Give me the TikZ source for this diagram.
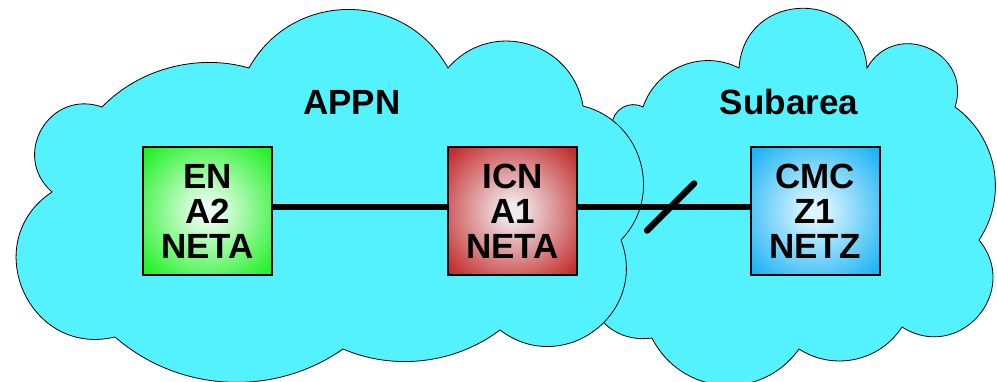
\documentclass[tikz,border=0pt]{standalone}
\usepackage{fontspec}
\setmainfont{Liberation Sans}
\definecolor{cloudc}{RGB}{84,242,255}
\definecolor{gin}{RGB}{236,255,240}
\definecolor{gout}{RGB}{36,240,40}
\definecolor{rin}{RGB}{240,234,236}
\definecolor{rout}{RGB}{196,46,46}
\definecolor{bin}{RGB}{222,246,255}
\definecolor{bout}{RGB}{30,180,245}
\pgfdeclareradialshading{gshade}{\pgfpointorigin}{color(0bp)=(gin); color(3bp)=(gin); color(33bp)=(gout); color(50bp)=(gout)}
\pgfdeclareradialshading{rshade}{\pgfpointorigin}{color(0bp)=(rin); color(3bp)=(rin); color(33bp)=(rout); color(50bp)=(rout)}
\pgfdeclareradialshading{bshade}{\pgfpointorigin}{color(0bp)=(bin); color(3bp)=(bin); color(33bp)=(bout); color(50bp)=(bout)}
\begin{document}
\begin{tikzpicture}[x=1pt,y=1pt,
  cloud/.style={fill=cloudc, draw=black, line width=0.8pt},
  lb/.style 2 args={bend left=#1, looseness=#2},
  netnode/.style={draw=black, line width=2pt, minimum width=129pt, minimum height=128pt,
    inner sep=0pt, align=center, font=\fontsize{35}{35}\selectfont\bfseries},
  cloudlabel/.style={font=\fontsize{35}{35}\selectfont\bfseries, anchor=base, inner sep=0pt},
  link/.style={line width=6.5pt, draw=black}
]
\useasboundingbox (0,0) rectangle (997,381);
% Subarea cloud (behind)
\path[cloud] (612,256) to[lb={58}{1.1}] (643,274) to[lb={49}{1.03}] (739,313)
  to[lb={86}{1.6}] (867,313) to[lb={84}{1.53}] (955,274) to[lb={44}{0.99}] (979,141)
  to[lb={81}{1.48}] (902,54) to[lb={45}{1.0}] (799,32) to[lb={59}{1.13}] (652,43)
  to[lb={40}{1.0}] (590,81) -- (575,161) -- cycle;
% APPN cloud (front)
\path[cloud] (52,189) to[lb={79}{1.44}] (102,274) to[lb={31}{0.9}] (249,313)
  to[lb={61}{1.15}] (448,313) to[lb={65}{1.2}] (583,275) to[lb={60}{1.13}] (621,141)
  to[lb={74}{1.34}] (500,51) to[lb={30}{0.91}] (343,32) to[lb={38}{0.95}] (115,44)
  to[lb={80}{1.44}] cycle;
% labels
\node[cloudlabel] (appn) at (352,266) {APPN};
\node[cloudlabel] (subarea) at (789,266) {Subarea};
% nodes
\node[netnode, shade, shading=gshade] (en) at (207.5,170) {EN\\A2\\NETA};
\node[netnode, shade, shading=rshade] (icn) at (512.5,170) {ICN\\A1\\NETA};
\node[netnode, shade, shading=bshade] (cmc) at (815,170) {CMC\\Z1\\NETZ};
% links
\draw[link] ([yshift=4pt]en.east) -- ([yshift=4pt]icn.west);
\draw[link] ([yshift=4pt]icn.east) -- coordinate[pos=0.54] (cut) ([yshift=4pt]cmc.west);
\draw[link, line cap=round] ([shift={(-23.5,-23.5)}]cut) -- ([shift={(23.5,23.5)}]cut);
\end{tikzpicture}
\end{document}
